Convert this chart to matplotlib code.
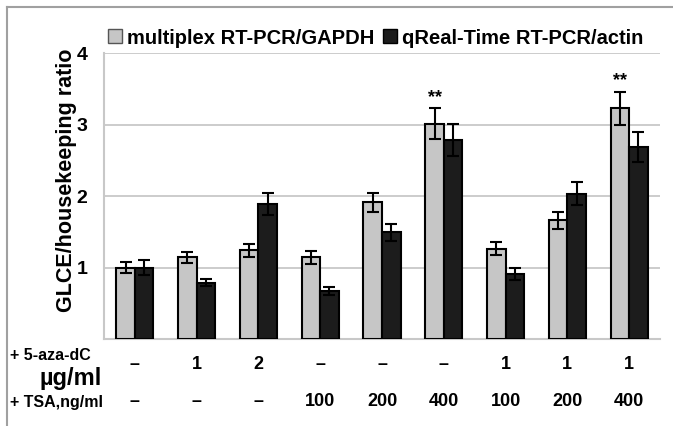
import numpy as np
import matplotlib.pyplot as plt
from matplotlib.lines import Line2D

plt.rcParams['font.family'] = ['Liberation Sans', 'DejaVu Sans']
plt.rcParams['font.weight'] = 'bold'

series_names = ["multiplex RT-PCR/GAPDH", "qReal-Time RT-PCR/actin"]
aza_labels = ["\u2013", "1", "2", "\u2013", "\u2013", "\u2013", "1", "1", "1"]
tsa_labels = ["\u2013", "\u2013", "\u2013", "100", "200", "400", "100", "200", "400"]

gapdh = [1.00, 1.14, 1.24, 1.14, 1.91, 3.01, 1.26, 1.66, 3.23]
gapdh_err = [0.075, 0.08, 0.095, 0.085, 0.13, 0.215, 0.09, 0.12, 0.23]
actin = [1.00, 0.79, 1.89, 0.67, 1.49, 2.78, 0.91, 2.03, 2.68]
actin_err = [0.10, 0.055, 0.15, 0.055, 0.115, 0.225, 0.08, 0.16, 0.21]
stars = [False, False, False, False, False, True, False, False, True]

W, H = 673, 426
fig = plt.figure(figsize=(W / 100, H / 100), dpi=100)
ax = fig.add_axes([104 / W, 1 - 339 / H, (660 - 104) / W, (339 - 53) / H])

x = np.arange(len(gapdh))
bw = 0.3
grey = "#c6c6c6"
dark = "#1c1c1c"
ax.bar(x - bw / 2, gapdh, bw, color=grey, edgecolor="black", linewidth=1.5, zorder=3)
ax.bar(x + bw / 2, actin, bw, color=dark, edgecolor="black", linewidth=1.5, zorder=3)
ax.errorbar(x - bw / 2, gapdh, yerr=gapdh_err, fmt="none", ecolor="black",
            elinewidth=1.5, capsize=4, capthick=1.5, zorder=4)
ax.errorbar(x + bw / 2, actin, yerr=actin_err, fmt="none", ecolor="black",
            elinewidth=1.5, capsize=4, capthick=1.5, zorder=4)

for i, s in enumerate(stars):
    if s:
        ax.text(x[i] - bw / 2, gapdh[i] + gapdh_err[i] + 0.03, "**", ha="center",
                va="bottom", fontsize=13, fontweight="bold")

ax.set_xlim(-0.5, len(gapdh) - 0.5)
ax.set_ylim(0, 4)
ax.set_yticks([1, 2, 3, 4])
ax.set_xticks([])
ax.tick_params(axis="y", length=0, pad=12, labelsize=14)
ax.yaxis.grid(True, color="#c8c8c8", linewidth=1.3, zorder=0)
for sp in ["top", "right"]:
    ax.spines[sp].set_visible(False)
for sp in ["left", "bottom"]:
    ax.spines[sp].set_color("#c8c8c8")
    ax.spines[sp].set_linewidth(1.5)
ax.set_ylabel("GLCE/housekeeping ratio", fontsize=15.5, fontweight="bold")
ax.yaxis.set_label_coords(-0.048, 0.555)

# treatment rows under the bars
trans = ax.get_xaxis_transform()
for i in range(len(x)):
    ax.text(x[i], -0.06, aza_labels[i], transform=trans, ha="center", va="top",
            fontsize=13, fontweight="bold")
    ax.text(x[i], -0.19, tsa_labels[i], transform=trans, ha="center", va="top",
            fontsize=13, fontweight="bold")
fig.text(10 / W, 1 - 356 / H, "+ 5-aza-dC", fontsize=11.5, fontweight="bold", va="center")
fig.text(71 / W, 1 - 379 / H, "\u00b5g/ml", fontsize=17, fontweight="bold",
         va="center", ha="center")
fig.text(10 / W, 1 - 402 / H, "+ TSA,ng/ml", fontsize=11.5, fontweight="bold", va="center")

handles = [Line2D([], [], marker="s", linestyle="none", markersize=10,
                  markerfacecolor=grey, markeredgecolor="#555555"),
           Line2D([], [], marker="s", linestyle="none", markersize=10,
                  markerfacecolor=dark, markeredgecolor="black")]
fig.legend(handles, series_names, loc="center", bbox_to_anchor=(375 / W, 1 - 38 / H),
           ncol=2, frameon=False, fontsize=14.5, handletextpad=0.2,
           columnspacing=0.4, handlelength=0.8, borderaxespad=0)

# outer frame
fig.add_artist(Line2D([7 / W, 7 / W], [0, 1 - 7 / H], color="#a0a0a0", linewidth=1.5))
fig.add_artist(Line2D([7 / W, 1], [1 - 7 / H, 1 - 7 / H], color="#a0a0a0", linewidth=1.5))

fig.savefig("out.png", dpi=100)
